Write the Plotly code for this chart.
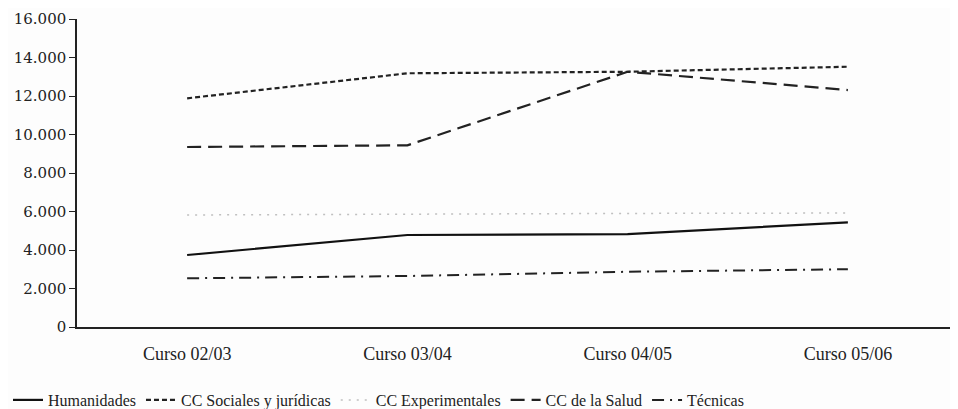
import plotly.graph_objects as go

categories = ["Curso 02/03", "Curso 03/04", "Curso 04/05", "Curso 05/06"]
humanidades = [3740, 4780, 4820, 5440]
sociales = [11880, 13180, 13260, 13520]
experimentales = [5820, 5870, 5900, 5920]
salud = [9350, 9440, 13260, 12310]
tecnicas = [2530, 2650, 2870, 3000]
y_ticks = [0, 2000, 4000, 6000, 8000, 10000, 12000, 14000, 16000]

series = [
    ("Humanidades", humanidades, dict(color="#111111", width=2.2, dash="solid")),
    ("CC Sociales y jurídicas", sociales, dict(color="#222222", width=2.2, dash="5px,3px")),
    ("CC Experimentales", experimentales, dict(color="#c0c0c0", width=1.5, dash="2px,6px")),
    ("CC de la Salud", salud, dict(color="#222222", width=2.2, dash="14px,7px")),
    ("Técnicas", tecnicas, dict(color="#222222", width=2, dash="12px,6px,2px,6px")),
]

fig = go.Figure()
for name, vals, line in series:
    fig.add_trace(go.Scatter(x=categories, y=vals, name=name, mode="lines", line=line))

fig.update_layout(
    width=958, height=409,
    paper_bgcolor="#fdfdfd", plot_bgcolor="#fdfdfd",
    margin=dict(l=69, r=8, t=11, b=90, autoexpand=False),
    separators=",.",
    font=dict(family="DejaVu Serif", color="#222222", size=14),
    showlegend=True,
    legend=dict(orientation="h", xref="container", yref="container",
                x=0.0, xanchor="left", y=0.0, yanchor="bottom",
                font=dict(family="Liberation Serif", size=16),
                itemwidth=30, tracegroupgap=0, bgcolor="rgba(0,0,0,0)"),
    xaxis=dict(type="category", range=[-0.5, 3.5], showgrid=False, showline=True,
               linecolor="#222222", linewidth=1.5, ticks="", automargin=False,
               tickfont=dict(family="Liberation Serif", size=18), ticklabelstandoff=10),
    yaxis=dict(range=[0, 16000], tickvals=y_ticks, tickformat=",.0f", showgrid=False,
               showline=True, linecolor="#222222", linewidth=1.5, ticks="outside",
               ticklen=6, tickcolor="#222222", zeroline=False, automargin=False,
               tickfont=dict(family="DejaVu Serif", size=15)),
)

fig.write_html("out.html")
